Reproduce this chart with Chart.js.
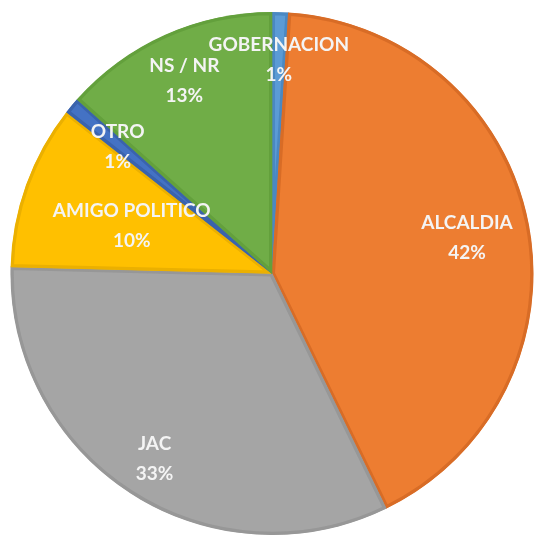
<!DOCTYPE html>
<html>
<head>
<meta charset="utf-8">
<script src="https://cdn.jsdelivr.net/npm/chart.js@4/dist/chart.umd.min.js"></script>
<style>
  html, body { margin: 0; padding: 0; background: #fff; }
  #wrap { width: 535px; height: 535px; }
</style>
</head>
<body>
<div id="wrap"><canvas id="chart1"></canvas></div>
<script>
    // slices, clockwise from 12 o'clock
    var labels = ['GOBERNACION', 'ALCALDIA', 'JAC', 'AMIGO POLITICO', 'OTRO', 'NS / NR'];
    var values = [1.0, 41.8, 32.6, 10.2, 1.0, 13.4];
    var shownPct = ['1%', '42%', '33%', '10%', '1%', '13%'];

    var fillColors = ['#5b9bd5', '#ed7d31', '#a5a5a5', '#ffc000', '#4472c4', '#70ad47'];
    var edgeColors = ['#4a88c2', '#d86c26', '#979797', '#ebb000', '#3a63ad', '#63a03c'];

    // how far out (fraction of radius) each label sits
    var labelRadius = [0.83, 0.76, 0.83, 0.57, 0.77, 0.82];

    var sliceLabels = {
        id: 'sliceLabels',
        afterDatasetsDraw: function(chart) {
            var ctx = chart.ctx;
            var arcs = chart.getDatasetMeta(0).data;
            ctx.save();
            ctx.fillStyle = '#f4f4f4';
            ctx.font = 'bold 19px Lato';
            ctx.textAlign = 'center';
            ctx.textBaseline = 'middle';
            arcs.forEach(function(arc, i) {
                var p = arc.getProps(['x', 'y', 'startAngle', 'endAngle', 'outerRadius'], true);
                var mid = (p.startAngle + p.endAngle) / 2;
                var r = p.outerRadius * labelRadius[i];
                var cx = p.x + Math.cos(mid) * r;
                var cy = p.y + Math.sin(mid) * r;
                ctx.fillText(labels[i], cx, cy - 12);
                ctx.fillText(shownPct[i], cx, cy + 18);
            });
            ctx.restore();
        }
    };

    var ctx = document.getElementById('chart1').getContext('2d');
    var myChart = new Chart(ctx, {
        type: 'pie',
        data: {
            labels: labels,
            datasets: [{
                data: values,
                backgroundColor: fillColors,
                borderColor: edgeColors,
                borderWidth: 3,
                borderAlign: 'inner'
            }]
        },
        options: {
            responsive: true,
            maintainAspectRatio: false,
            animation: false,
            layout: {
                padding: { left: 10, right: 1, top: 12, bottom: 0 }
            },
            plugins: {
                legend: { display: false },
                tooltip: { enabled: false }
            }
        },
        plugins: [sliceLabels]
    });
</script>
</body>
</html>
